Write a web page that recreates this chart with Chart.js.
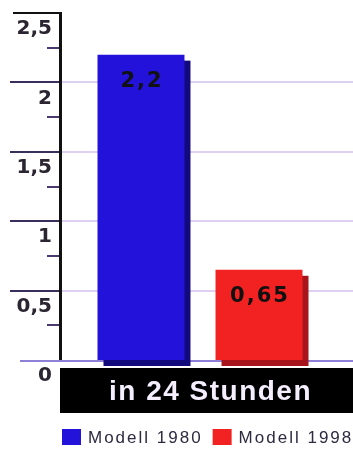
<!DOCTYPE html>
<html>
<head>
<meta charset="utf-8">
<script src="https://cdn.jsdelivr.net/npm/chart.js@4"></script>
<style>
  html, body { margin: 0; padding: 0; background: #fff; }
  canvas { display: block; }
</style>
</head>
<body>
<canvas id="c" width="353" height="451"></canvas>
<script>
// Consumption per day, two model years
const categories = ['in 24 Stunden'];
const seriesNames = ['Modell 1980', 'Modell 1998'];
const values1980 = [2.2];
const values1998 = [0.65];
const tickValues = [0, 0.5, 1, 1.5, 2, 2.5];
const tickLabels = ['0', '0,5', '1', '1,5', '2', '2,5'];

const seriesColors = ['#2212da', '#f22222'];
const shadowColors = ['#12097c', '#a8141c'];

const fmt = v => String(v).replace('.', ',');
const majorIndex = v => tickValues.findIndex(t => Math.abs(t - v) < 1e-6);

const decor = {
  id: 'decor',
  beforeDraw(chart) {
    const { ctx } = chart;
    ctx.save();
    ctx.fillStyle = '#fff';
    ctx.fillRect(0, 0, chart.width, chart.height);
    ctx.restore();
  },
  beforeDatasetsDraw(chart) {
    const { ctx, chartArea: a, scales: { y } } = chart;
    const W = chart.width;
    ctx.save();
    ctx.lineWidth = 2;
    y.ticks.forEach(t => {
      const py = Math.round(y.getPixelForValue(t.value));
      const idx = majorIndex(t.value);
      ctx.beginPath();
      if (idx === 0) {
        ctx.strokeStyle = '#8f7fd6';
        ctx.moveTo(20, py + 1);
        ctx.lineTo(W, py + 1);
        ctx.stroke();
      } else if (idx > 0) {
        if (idx < tickValues.length - 1) {
          ctx.strokeStyle = '#ddd0f0';
          ctx.moveTo(a.left + 2, py);
          ctx.lineTo(W, py);
          ctx.stroke();
          ctx.beginPath();
          ctx.strokeStyle = '#3a2f5c';
          ctx.moveTo(10, py);
        } else {
          ctx.strokeStyle = '#111';
          ctx.moveTo(13, py);
        }
        ctx.lineTo(a.left - 1, py);
        ctx.stroke();
      } else {
        ctx.strokeStyle = '#4a3a6e';
        ctx.moveTo(a.left - 13, py);
        ctx.lineTo(a.left - 1, py);
        ctx.stroke();
      }
    });
    // darker offset face behind each bar
    chart.data.datasets.forEach((ds, i) => {
      chart.getDatasetMeta(i).data.forEach(bar => {
        const { x, y: top, width, base } = bar.getProps(['x', 'y', 'width', 'base'], true);
        ctx.fillStyle = shadowColors[i];
        ctx.fillRect(x - width / 2 + 6, top + 6, width, base - top);
      });
    });
    ctx.restore();
  },
  afterDatasetsDraw(chart) {
    const { ctx } = chart;
    ctx.save();
    ctx.font = 'bold 21px "DejaVu Sans"';
    ctx.letterSpacing = '2px';
    ctx.fillStyle = '#111';
    ctx.textAlign = 'center';
    ctx.textBaseline = 'middle';
    chart.data.datasets.forEach((ds, i) => {
      chart.getDatasetMeta(i).data.forEach((bar, j) => {
        ctx.fillText(fmt(ds.data[j]), bar.x + 1, bar.y + 27);
      });
    });
    ctx.restore();
  },
  afterDraw(chart) {
    const { ctx, chartArea: a } = chart;
    const W = chart.width;
    ctx.save();
    // category band
    ctx.fillStyle = '#000';
    ctx.fillRect(a.left, 368, W - a.left, 45);
    ctx.font = 'bold 28px "Liberation Sans"';
    ctx.letterSpacing = '1.5px';
    ctx.fillStyle = '#f4eeff';
    ctx.textAlign = 'center';
    ctx.textBaseline = 'middle';
    ctx.fillText(chart.data.labels[0], (a.left + W) / 2 + 4, 392);
    // legend
    ctx.font = '17px "Liberation Sans"';
    ctx.letterSpacing = '2px';
    ctx.textAlign = 'left';
    let x = a.left + 2;
    chart.data.datasets.forEach(ds => {
      ctx.fillStyle = ds.backgroundColor;
      ctx.fillRect(x, 429, 19, 16);
      x += 26;
      ctx.fillStyle = '#2e2a40';
      ctx.fillText(ds.label, x, 438);
      x += ctx.measureText(ds.label).width + 10;
    });
    ctx.restore();
  }
};

new Chart(document.getElementById('c'), {
  type: 'bar',
  data: {
    labels: categories,
    datasets: [
      { label: seriesNames[0], data: values1980, backgroundColor: seriesColors[0] },
      { label: seriesNames[1], data: values1998, backgroundColor: seriesColors[1] }
    ]
  },
  options: {
    responsive: false,
    animation: false,
    devicePixelRatio: 1,
    layout: { padding: { top: 13, bottom: 91, left: 0, right: 13 } },
    datasets: { bar: { categoryPercentage: 0.843, barPercentage: 0.737, borderWidth: 0 } },
    plugins: { legend: { display: false }, tooltip: { enabled: false } },
    scales: {
      x: { display: false },
      y: {
        min: 0,
        max: 2.5,
        afterFit(scale) {
          scale.width = 60;
          scale.paddingTop = 0;
          scale.paddingBottom = 0;
        },
        border: { display: true, color: '#111', width: 3 },
        grid: { display: false, drawTicks: false },
        ticks: {
          stepSize: 0.25,
          autoSkip: false,
          labelOffset: 16,
          padding: 8,
          color: '#2a2530',
          font: { family: 'DejaVu Sans', size: 20, weight: 'bold' },
          callback(v) {
            const i = majorIndex(v);
            return i >= 0 ? tickLabels[i] : '';
          }
        }
      }
    }
  },
  plugins: [decor]
});
</script>
</body>
</html>
